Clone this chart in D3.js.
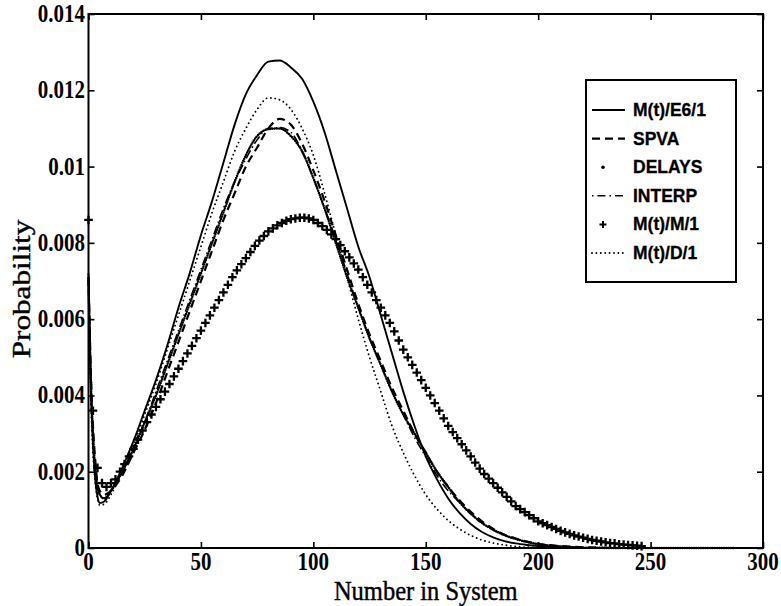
<!DOCTYPE html>
<html>
<head>
<meta charset="utf-8">
<script src="https://cdn.jsdelivr.net/npm/d3@7"></script>
<style>
  html, body { margin: 0; padding: 0; background: #fff; }
  svg { display: block; }
</style>
</head>
<body>
<svg id="chart" width="781" height="606"></svg>
<script>
// Queue-length distributions: number in system vs. probability

// shared grid of queue lengths for the line series
const lineN = [0,1,2,3,4,5,7,10,15,20,25,30,35,40,45,50,55,60,65,70,75,80,85,90,95,100,
  105,110,115,120,125,130,135,140,145,150,155,160,165,170,175,180,185,190,195,200,210,220,240,260,287];

const e6 = [0.0072,0.0043,0.0027,0.0018,0.00135,0.00118,0.00122,0.0015,0.0021,0.0028,0.0036,0.0044,0.0053,0.0063,0.0072,
  0.0082,0.0091,0.0101,0.0111,0.0119,0.0124,0.01275,0.01278,0.0126,0.0123,0.0117,0.0109,0.0099,0.0089,0.0079,
  0.0071,0.0061,0.0051,0.0041,0.0032,0.0024,0.0018,0.0013,0.00092,0.00063,0.00042,0.00028,0.00018,0.00012,0.00008,
  0.00005,0.00002,0,0,0,0];

const spva = [0.0071,0.0047,0.0032,0.0023,0.0017,0.0015,0.0014,0.0015,0.0019,0.0025,0.0031,0.0038,0.0046,0.0054,0.0062,
  0.0070,0.0078,0.0086,0.0093,0.0100,0.0105,0.0110,0.01125,0.0111,0.0106,0.0099,0.0091,0.0082,0.0073,0.0064,
  0.0056,0.0049,0.0042,0.0036,0.0030,0.0025,0.0020,0.0016,0.00125,0.00095,0.0007,0.0005,0.00035,0.00025,0.00017,
  0.00011,0.00005,0.00002,0,0,0];

const delays = [0.0070,0.0045,0.0030,0.0021,0.0016,0.0014,0.0013,0.0015,0.0020,0.0026,0.0033,0.0040,0.0048,0.0056,0.0064,
  0.0072,0.0080,0.0088,0.0096,0.0103,0.0108,0.01098,0.0110,0.0108,0.0104,0.0097,0.0089,0.0080,0.0071,0.0063,
  0.0055,0.0048,0.0041,0.0035,0.0030,0.0025,0.0020,0.0016,0.0012,0.0009,0.00066,0.00048,0.00034,0.00024,0.00016,
  0.0001,0.00004,0.00001,0,0,0];

const interp = [0.0071,0.0044,0.0029,0.0020,0.0016,0.0014,0.0013,0.0015,0.0020,0.0026,0.0033,0.0041,0.0049,0.0057,0.0065,
  0.0073,0.0081,0.0089,0.0096,0.0102,0.0107,0.0110,0.01102,0.0109,0.0104,0.0097,0.0089,0.0081,0.0072,0.0063,
  0.0055,0.0048,0.0041,0.0035,0.0029,0.0024,0.0019,0.0015,0.0012,0.0009,0.00065,0.00047,0.00033,0.00023,0.00015,
  0.0001,0.00004,0.00001,0,0,0];

const d1 = [0.0070,0.0040,0.0025,0.0017,0.0013,0.00112,0.00115,0.0014,0.0020,0.0027,0.0035,0.0043,0.0052,0.0061,0.0070,
  0.0079,0.0088,0.0096,0.0104,0.0110,0.0115,0.0118,0.01175,0.0115,0.0110,0.0103,0.0093,0.0082,0.0071,0.0060,
  0.0050,0.0041,0.0032,0.0025,0.0019,0.0014,0.00102,0.00072,0.0005,0.00033,0.00021,0.00013,0.00008,0.00004,0.00002,
  0.00001,0,0,0,0,0];

// M(t)/M/1 is marked at every second queue length
const mm1N = d3.range(0, 247, 2);
const mm1 = [0.0086,0.0036,0.0021,0.0017,0.0016,0.0017,0.0018,0.0020,0.0022,0.0024,
  0.0026,0.00284,0.00308,0.0033,0.0035,0.0037,0.0039,0.0041,0.0043,0.0045,
  0.0047,0.0049,0.0051,0.0053,0.0055,0.0057,0.0059,0.0061,0.0063,0.0065,
  0.0067,0.0069,0.0071,0.00728,0.00744,0.0076,0.00776,0.00792,0.00806,0.00818,
  0.0083,0.00838,0.00846,0.00852,0.00858,0.00862,0.00864,0.00866,0.00866,0.00864,
  0.0086,0.00852,0.00844,0.00834,0.00822,0.0081,0.00794,0.00778,0.00762,0.00746,
  0.0073,0.0071,0.0069,0.0067,0.0065,0.0063,0.0061,0.0059,0.00568,0.00544,
  0.0052,0.005,0.0048,0.0046,0.0044,0.0042,0.004,0.0038,0.0036,0.0034,
  0.0032,0.00304,0.00288,0.00272,0.00256,0.0024,0.00224,0.00208,0.00194,0.00182,
  0.0017,0.00158,0.00146,0.00134,0.00122,0.0011,0.00102,0.00094,0.00086,0.00078,
  0.0007,0.00065,0.0006,0.00055,0.0005,0.00045,0.00041,0.00037,0.00033,0.0003,
  0.00027,0.00024,0.00021,0.00019,0.00017,0.00015,0.00013,0.00012,0.0001,0.00009,
  0.00008,0.00007,0.00006,0.00005];

const xTicks = [0, 50, 100, 150, 200, 250, 300];
const yTicks = [0, 0.002, 0.004, 0.006, 0.008, 0.01, 0.012, 0.014];
const legendLabels = ["M(t)/E6/1", "SPVA", "DELAYS", "INTERP", "M(t)/M/1", "M(t)/D/1"];

const svg = d3.select("#chart");
const x = d3.scaleLinear().domain([0, 300]).range([88.5, 763]);
const y = d3.scaleLinear().domain([0, 0.014]).range([548, 14]);

const serif = "'Liberation Serif', 'Times New Roman', serif";
const sans = "'Liberation Sans', Arial, Helvetica, sans-serif";

// plot frame ticks on all four sides, pointing inward
const tick = 6;
svg.append("g").attr("transform", `translate(0,${y(0)})`)
  .call(d3.axisBottom(x).tickValues(xTicks).tickSize(-tick).tickFormat(""));
svg.append("g").attr("transform", `translate(0,${y(0.014)})`)
  .call(d3.axisTop(x).tickValues(xTicks).tickSize(-tick).tickFormat(""));
svg.append("g").attr("transform", `translate(${x(0)},0)`)
  .call(d3.axisLeft(y).tickValues(yTicks).tickSize(-tick).tickFormat(""));
svg.append("g").attr("transform", `translate(${x(300)},0)`)
  .call(d3.axisRight(y).tickValues(yTicks).tickSize(-tick).tickFormat(""));
svg.selectAll(".domain").remove();
svg.selectAll(".tick line").attr("stroke", "#000").attr("stroke-width", 1.6);

svg.append("rect")
  .attr("x", x(0)).attr("y", y(0.014))
  .attr("width", x(300) - x(0)).attr("height", y(0) - y(0.014))
  .attr("fill", "none").attr("stroke", "#000").attr("stroke-width", 2);

// tick labels
const fmtY = d => d === 0 ? "0" : String(+d.toFixed(3));
svg.append("g").selectAll("text").data(xTicks).join("text")
  .attr("transform", d => `translate(${x(d)},570) scale(1,1.15)`)
  .attr("text-anchor", "middle")
  .attr("font-family", serif).attr("font-weight", "bold").attr("font-size", 21)
  .text(d => d);
svg.append("g").selectAll("text").data(yTicks).join("text")
  .attr("transform", d => `translate(85,${y(d) + 8}) scale(1,1.2)`)
  .attr("text-anchor", "end")
  .attr("font-family", serif).attr("font-weight", "bold").attr("font-size", 21)
  .text(fmtY);

// axis titles
svg.append("text")
  .attr("transform", `translate(${(x(0) + x(300)) / 2},600) scale(1,1.1)`)
  .attr("text-anchor", "middle")
  .attr("font-family", serif).attr("font-size", 24.5)
  .attr("stroke", "#000").attr("stroke-width", 0.4)
  .text("Number in System");
svg.append("text")
  .attr("transform", `translate(30,${(y(0) + y(0.014)) / 2 + 8}) rotate(-90) scale(1.2,1)`)
  .attr("text-anchor", "middle")
  .attr("font-family", serif).attr("font-size", 26)
  .attr("stroke", "#000").attr("stroke-width", 0.4)
  .text("Probability");

// series
const plot = svg.append("g");
const line = vals => d3.line()
  .x((d, i) => x(lineN[i]))
  .y(d => y(d))
  .curve(d3.curveMonotoneX)(vals);

const styles = {
  e6:     { dash: null,            width: 1.9, cap: "butt" },
  spva:   { dash: "8 5",           width: 2.2, cap: "butt" },
  delays: { dash: "0 2.3",         width: 2.5, cap: "round" },
  interp: { dash: "9 3 1.5 3",     width: 1.6, cap: "butt" },
  d1:     { dash: "0 4.4",         width: 1.9, cap: "round" }
};

function drawLine(vals, s) {
  plot.append("path")
    .attr("d", line(vals))
    .attr("fill", "none")
    .attr("stroke", "#000")
    .attr("stroke-width", s.width)
    .attr("stroke-linecap", s.cap)
    .attr("stroke-linejoin", "round")
    .attr("stroke-dasharray", s.dash);
}
drawLine(d1, styles.d1);
drawLine(spva, styles.spva);
drawLine(delays, styles.delays);
drawLine(interp, styles.interp);
drawLine(e6, styles.e6);

// M(t)/M/1 plus markers
const plus = 4.3;
plot.append("g").selectAll("path").data(mm1).join("path")
  .attr("transform", (d, i) => `translate(${x(mm1N[i])},${y(d)})`)
  .attr("d", `M${-plus},0H${plus}M0,${-plus}V${plus}`)
  .attr("stroke", "#000").attr("stroke-width", 2.3).attr("fill", "none");

// legend
const lg = svg.append("g");
lg.append("rect")
  .attr("x", 586).attr("y", 80).attr("width", 150).attr("height", 202)
  .attr("fill", "#fff").attr("stroke", "#000").attr("stroke-width", 2);
const rowY = i => 110 + i * 28.6;
const x0 = 592, x1 = 625;
legendLabels.forEach((lab, i) => {
  const cy = rowY(i);
  lg.append("text")
    .attr("x", 633).attr("y", cy + 6)
    .attr("font-family", sans).attr("font-weight", "bold").attr("font-size", 17.5)
    .attr("stroke", "#000").attr("stroke-width", 0.3)
    .text(lab);
});
function legendLine(i, s) {
  lg.append("line")
    .attr("x1", x0).attr("x2", x1).attr("y1", rowY(i)).attr("y2", rowY(i))
    .attr("stroke", "#000").attr("stroke-width", s.width)
    .attr("stroke-linecap", s.cap).attr("stroke-dasharray", s.dash);
}
legendLine(0, styles.e6);
legendLine(1, styles.spva);
lg.append("circle").attr("cx", 603).attr("cy", rowY(2)).attr("r", 1.8).attr("fill", "#000");
legendLine(3, { dash: "1.5 4 8 4", width: 1.6, cap: "butt" });
lg.append("path")
  .attr("transform", `translate(603,${rowY(4)})`)
  .attr("d", `M-3.5,0H3.5M0,-3.5V3.5`)
  .attr("stroke", "#000").attr("stroke-width", 2);
legendLine(5, styles.d1);
</script>
</body>
</html>
